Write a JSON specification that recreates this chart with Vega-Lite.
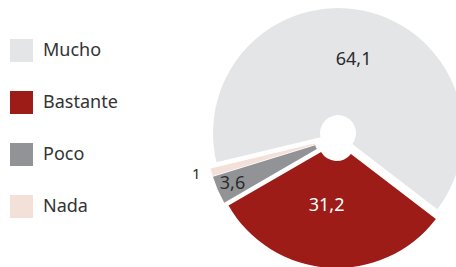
{
  "$schema": "https://vega.github.io/schema/vega-lite/v6.json",
  "width": 238,
  "height": 258,
  "autosize": {"type": "none"},
  "padding": {"left": 218, "top": 9, "right": 0, "bottom": 0},
  "background": "white",
  "config": {"view": {"stroke": null}, "font": "Noto Sans"},
  "data": {
    "values": [
      {"cat": "Bastante", "value": 31.2, "label": "31,2"},
      {"cat": "Poco", "value": 3.6, "label": "3,6"},
      {"cat": "Nada", "value": 1, "label": "1"},
      {"cat": "Mucho", "value": 64.1, "label": "64,1"}
    ]
  },
  "transform": [{"stack": "value", "groupby": [], "as": ["v0", "v1"]}],
  "encoding": {
    "color": {
      "field": "cat",
      "type": "nominal",
      "scale": {
        "domain": ["Mucho", "Bastante", "Poco", "Nada"],
        "range": ["#e4e5e7", "#9e1c17", "#929397", "#f3e0d9"]
      },
      "legend": {
        "title": null,
        "orient": "none",
        "legendX": -208,
        "legendY": 30,
        "padding": 0,
        "symbolType": "square",
        "symbolSize": 529,
        "symbolStrokeWidth": 0,
        "labelFontSize": 18,
        "labelFont": "Noto Sans",
        "labelColor": "#333333",
        "rowPadding": 29,
        "labelOffset": 10
      }
    }
  },
  "layer": [
    {
      "transform": [{"filter": "datum.cat === 'Mucho'"}],
      "mark": {"type": "arc", "innerRadius": 18, "outerRadius": 125, "xOffset": 1.04, "yOffset": -4.89},
      "encoding": {
        "theta": {"field": "v0", "type": "quantitative", "scale": {"domain": [0, 99.9], "range": [2.2253, 8.5085]}},
        "theta2": {"field": "v1"}
      }
    },
    {
      "transform": [{"filter": "datum.cat === 'Bastante'"}],
      "mark": {"type": "arc", "innerRadius": 18, "outerRadius": 125, "xOffset": -0.32, "yOffset": 4.99},
      "encoding": {
        "theta": {"field": "v0", "type": "quantitative", "scale": {"domain": [0, 99.9], "range": [2.2253, 8.5085]}},
        "theta2": {"field": "v1"}
      }
    },
    {
      "transform": [{"filter": "datum.cat === 'Poco'"}],
      "mark": {"type": "arc", "innerRadius": 18, "outerRadius": 125, "xOffset": -4.58, "yOffset": 2.0},
      "encoding": {
        "theta": {"field": "v0", "type": "quantitative", "scale": {"domain": [0, 99.9], "range": [2.2253, 8.5085]}},
        "theta2": {"field": "v1"}
      }
    },
    {
      "transform": [{"filter": "datum.cat === 'Nada'"}],
      "mark": {"type": "arc", "innerRadius": 18, "outerRadius": 125, "xOffset": -4.82, "yOffset": 1.32},
      "encoding": {
        "theta": {"field": "v0", "type": "quantitative", "scale": {"domain": [0, 99.9], "range": [2.2253, 8.5085]}},
        "theta2": {"field": "v1"}
      }
    },
    {
      "mark": {"type": "text", "radius": 75, "xOffset": 1.04, "yOffset": -4.89, "fontSize": 18, "font": "Noto Sans", "align": "center", "baseline": "middle"},
      "encoding": {
        "theta": {"field": "value", "type": "quantitative", "stack": true},
        "order": {"field": "v0", "type": "quantitative"},
        "text": {"condition": {"test": "datum.cat === 'Mucho'", "field": "label"}, "value": ""},
        "color": {"value": "#2b2b2b"}
      }
    },
    {
      "mark": {"type": "text", "radius": 63, "xOffset": -0.32, "yOffset": 4.99, "fontSize": 18, "font": "Noto Sans", "align": "center", "baseline": "middle", "dx": -6},
      "encoding": {
        "theta": {"field": "value", "type": "quantitative", "stack": true},
        "order": {"field": "v0", "type": "quantitative"},
        "text": {"condition": {"test": "datum.cat === 'Bastante'", "field": "label"}, "value": ""},
        "color": {"value": "#ffffff"}
      }
    },
    {
      "mark": {"type": "text", "radius": 109, "xOffset": -4.58, "yOffset": 2.0, "fontSize": 18, "font": "Noto Sans", "align": "center", "baseline": "middle"},
      "encoding": {
        "theta": {"field": "value", "type": "quantitative", "stack": true},
        "order": {"field": "v0", "type": "quantitative"},
        "text": {"condition": {"test": "datum.cat === 'Poco'", "field": "label"}, "value": ""},
        "color": {"value": "#2b2b2b"}
      }
    },
    {
      "mark": {"type": "text", "radius": 141, "xOffset": -4.82, "yOffset": 1.32, "fontSize": 15, "font": "Noto Sans", "align": "center", "baseline": "middle", "dy": -3},
      "encoding": {
        "theta": {"field": "value", "type": "quantitative", "stack": true},
        "order": {"field": "v0", "type": "quantitative"},
        "text": {"condition": {"test": "datum.cat === 'Nada'", "field": "label"}, "value": ""},
        "color": {"value": "#2b2b2b"}
      }
    }
  ]
}
